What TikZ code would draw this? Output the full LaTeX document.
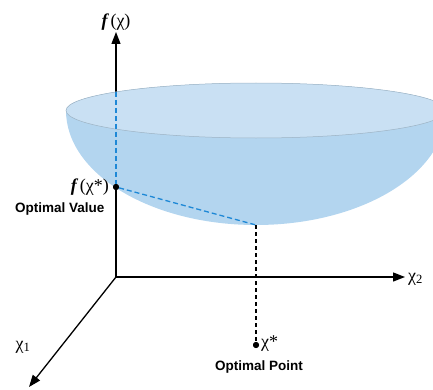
\documentclass[tikz,border=0pt]{standalone}
\usepackage{fontspec}
\setmainfont{Liberation Serif}
\newfontfamily\tagfont{Liberation Sans}
\newfontfamily\symfont{Liberation Serif}
\usepackage{xcolor}
\usepackage{tikz}
\usetikzlibrary{arrows.meta}
\definecolor{bowltop}{HTML}{C9E0F3}
\definecolor{bowlside}{HTML}{B3D5EF}
\definecolor{bowlrim}{HTML}{9DB3C4}
\definecolor{guide}{HTML}{1E88D6}
\newcommand{\fb}{\textbf{\textit{f}}\kern1.5pt}

\begin{document}
\begin{tikzpicture}[x=1pt, y=1pt, font=\symfont\fontsize{18}{20}\selectfont,
  axis/.style={-{Triangle[length=12pt,width=9pt]}, line width=1.3pt},
  dot/.style={circle, fill=black, inner sep=0pt, minimum size=6pt},
  tag/.style={font=\tagfont\bfseries\fontsize{13.5}{15}\selectfont},
  hidden/.style={guide, line width=1.3pt, dash pattern=on 5pt off 3pt},
  drop/.style={black, line width=1.3pt, dash pattern=on 4pt off 3pt}]
\useasboundingbox (0,0) rectangle (433,389);
\clip (0,0) rectangle (433,389);
% axes
\coordinate (O) at (116,112);
\coordinate (ftip) at (116,357);
\coordinate (xtwotip) at (405,112);
\coordinate (xonetip) at (29,2);
\draw[axis] (O) -- (ftip);
\draw[axis] (O) -- (xtwotip);
\draw[axis] (O) -- (xonetip);
\node[anchor=south, inner sep=1pt] (flab) at (ftip) {\fb(χ)};
\node[anchor=west, inner sep=1pt] (xtwolab) at (407,110) {χ\textsubscript{2}};
\node (xonelab) at (23,42) {χ\textsubscript{1}};
% bowl
\fill[bowlside] (66,278.5) arc[start angle=180, end angle=360, x radius=190, y radius=114.5]
  arc[start angle=0, end angle=180, x radius=190, y radius=27.5] -- cycle;
\draw[bowlrim, line width=0.5pt, fill=bowltop] (256,278.5) ellipse[x radius=190, y radius=27.5];
% optimum
\coordinate (rim) at (116,297.1);
\coordinate (B) at (256,164);
\node[dot] (P) at (116,202) {};
\node[dot] (xstar) at (256,44) {};
\draw[hidden] (rim) -- (P);
\draw[hidden] (P) -- (B);
\draw[drop] (B) -- (xstar);
\node[dot] at (P) {};
\node[dot] at (xstar) {};
\node[anchor=east, inner sep=1pt] (fstarlab) at (110,202) {\fb(χ*)};
\node[tag, anchor=east] (valuelab) at (108,180) {Optimal Value};
\node[anchor=west, inner sep=1pt] (xstarlab) at (260,45) {χ*};
\node[tag] (pointlab) at (259,22) {Optimal Point};
\end{tikzpicture}
\end{document}
